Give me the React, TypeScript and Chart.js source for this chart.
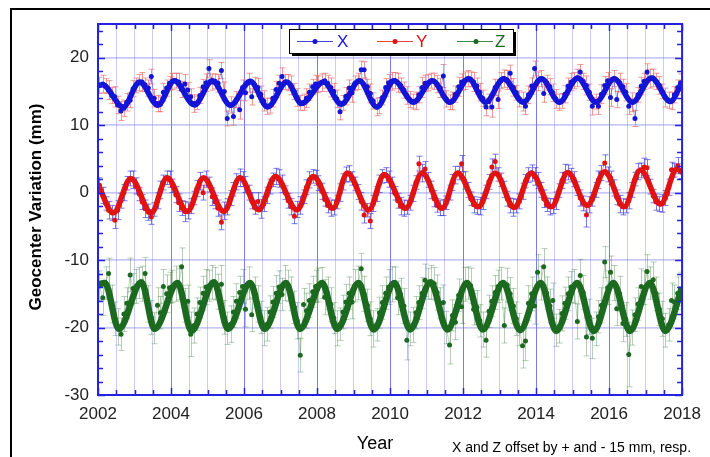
import React, { useEffect, useRef } from 'react';
import { Chart, registerables } from 'chart.js';
Chart.register(...registerables);

// ---------------- data ----------------
const years = [2002, 2003, 2004, 2005, 2006, 2007, 2008, 2009, 2010, 2011, 2012, 2013, 2014, 2015, 2016, 2017];
const monthFrac = [0.04, 0.13, 0.21, 0.29, 0.38, 0.46, 0.54, 0.63, 0.71, 0.79, 0.88, 0.96];

const xTickValues = [2002, 2002.5, 2003, 2003.5, 2004, 2004.5, 2005, 2005.5, 2006, 2006.5, 2007, 2007.5, 2008, 2008.5, 2009, 2009.5, 2010, 2010.5, 2011, 2011.5, 2012, 2012.5, 2013, 2013.5, 2014, 2014.5, 2015, 2015.5, 2016, 2016.5, 2017, 2017.5, 2018];
const xLabelYears = [2002, 2004, 2006, 2008, 2010, 2012, 2014, 2016, 2018];
const yTickValues = [-30, -20, -10, 0, 10, 20];

const seriesNames = ['X', 'Y', 'Z'];

// X component (offset +15 mm), monthly
const xData = [
  [15.9, 16.1, 15.8, 15.2, 14.4, 14.2, 13.0, 12.1, 12.5, 13.4, 13.7, 15.4],
  [15.9, 16.3, 16.4, 16.0, 15.5, 17.2, 14.0, 13.2, 13.1, 14.9, 15.5, 16.2],
  [16.5, 16.6, 16.4, 15.3, 16.1, 15.2, 14.2, 13.2, 13.3, 14.4, 15.7, 16.3],
  [18.4, 16.4, 16.5, 16.2, 18.1, 15.0, 11.0, 13.0, 11.3, 13.8, 12.3, 15.6],
  [14.8, 16.3, 14.2, 16.0, 15.6, 14.6, 13.6, 12.8, 12.9, 14.0, 15.3, 16.2],
  [17.2, 16.4, 16.3, 15.9, 15.0, 14.1, 13.3, 13.4, 14.0, 14.9, 15.7, 16.1],
  [16.1, 16.3, 16.6, 16.2, 15.6, 15.0, 13.9, 12.0, 13.3, 14.3, 15.5, 14.8],
  [16.2, 16.5, 18.2, 18.2, 15.7, 14.7, 13.6, 12.7, 12.9, 14.1, 15.6, 16.3],
  [16.5, 16.6, 16.3, 15.9, 15.2, 14.4, 13.8, 13.5, 13.6, 14.5, 15.6, 16.2],
  [16.3, 16.6, 16.5, 16.1, 15.5, 17.3, 13.9, 13.4, 13.6, 14.6, 15.7, 16.4],
  [16.6, 16.9, 16.8, 16.4, 15.8, 14.9, 14.0, 12.7, 13.5, 12.7, 15.6, 13.8],
  [16.6, 16.9, 16.7, 17.7, 15.6, 14.8, 13.9, 13.5, 12.8, 14.5, 15.8, 18.4],
  [16.5, 16.9, 14.7, 16.3, 15.7, 14.8, 13.9, 13.4, 13.6, 14.6, 15.8, 16.4],
  [16.6, 17.0, 17.9, 16.5, 15.9, 14.9, 12.8, 13.5, 12.8, 14.6, 15.9, 16.6],
  [14.1, 16.9, 13.8, 16.3, 15.7, 14.9, 12.8, 13.4, 11.0, 14.5, 15.8, 16.5],
  [17.9, 16.9, 17.0, 16.5, 15.9, 15.0, 14.1, 13.7, 13.6, 14.5, 15.6, 16.3],
];
const xErr = [
  [1.2, 1.3, 1.1, 1.4, 1.2, 1.5, 1.3, 1.4, 1.2, 1.3, 1.1, 1.2],
  [1.1, 1.2, 1.4, 1.0, 1.2, 1.1, 1.3, 1.2, 1.1, 1.3, 1.2, 1.0],
  [1.2, 1.1, 1.3, 1.2, 1.4, 1.1, 1.2, 1.3, 1.0, 1.2, 1.1, 1.3],
  [1.3, 1.2, 1.1, 1.3, 1.2, 1.4, 1.1, 1.2, 1.3, 1.2, 1.4, 1.1],
  [1.2, 1.4, 1.2, 1.1, 1.3, 1.2, 1.5, 1.2, 1.1, 1.3, 1.2, 1.2],
  [1.3, 1.1, 1.2, 1.4, 1.2, 1.3, 1.1, 1.2, 1.4, 1.2, 1.1, 1.3],
  [1.2, 1.3, 1.1, 1.2, 1.4, 1.2, 1.3, 1.2, 1.1, 1.3, 1.2, 1.4],
  [1.1, 1.2, 1.3, 1.2, 1.1, 1.4, 1.2, 1.3, 1.2, 1.1, 1.3, 1.2],
  [1.3, 1.2, 1.4, 1.1, 1.2, 1.3, 1.2, 1.1, 1.3, 1.2, 1.5, 1.2],
  [1.2, 1.1, 1.2, 1.3, 1.4, 1.7, 1.2, 1.1, 1.3, 1.2, 1.4, 1.2],
  [1.3, 1.2, 1.1, 1.4, 1.2, 1.3, 1.2, 1.3, 1.1, 1.5, 1.2, 1.3],
  [1.2, 1.3, 1.4, 1.2, 1.3, 1.1, 1.2, 1.4, 1.2, 1.3, 1.2, 1.1],
  [1.4, 1.2, 1.3, 1.1, 1.2, 1.3, 1.4, 1.2, 1.1, 1.3, 1.2, 1.3],
  [1.2, 1.3, 1.1, 1.2, 1.4, 1.2, 1.3, 1.1, 1.2, 1.4, 1.3, 1.2],
  [1.3, 1.2, 1.2, 1.4, 1.1, 1.3, 1.2, 1.4, 1.2, 1.1, 1.3, 1.2],
  [1.2, 1.4, 1.3, 1.2, 1.3, 1.1, 1.4, 1.2, 1.3, 1.2, 1.1, 1.3],
];

// Y component, monthly
const yData = [
  [1.1, -0.4, -1.6, -2.6, -3.0, -4.1, -2.6, -1.2, 0.0, 1.4, 2.1, 1.9],
  [1.0, -0.2, -1.4, -2.4, -2.9, -3.6, -2.5, -1.2, 0.4, 1.5, 2.2, 2.0],
  [1.0, -0.3, -1.5, -2.3, -2.8, -2.7, -2.0, -0.8, 0.6, 1.7, 0.0, 2.0],
  [1.2, -0.6, -1.4, -2.3, -4.4, -2.7, -2.1, -0.8, 0.5, 1.6, 2.2, 2.0],
  [1.2, 0.0, -1.2, -2.2, -1.3, -2.4, -1.7, -0.4, 0.9, 1.9, 2.4, 2.1],
  [1.3, 0.0, -1.2, -2.1, -3.5, -2.5, -1.9, -0.6, 0.8, 1.9, 2.4, 2.2],
  [1.4, 0.2, -1.0, -1.9, -2.3, -2.2, -1.4, 0.0, 1.6, 2.7, 2.8, 2.1],
  [1.3, 0.1, -1.3, -3.3, -2.6, -4.2, -1.6, -0.2, 1.3, 2.4, 2.6, 2.0],
  [1.1, -0.1, -1.2, -2.0, -2.3, -2.2, -1.5, -0.1, 1.5, 4.3, 2.9, 3.5],
  [1.9, 0.4, -0.9, -1.9, -2.3, -2.2, -1.5, 0.0, 1.5, 2.6, 2.9, 4.3],
  [1.8, 0.4, -0.9, -1.8, -2.1, -2.0, -1.3, 0.1, 1.6, 3.8, 4.6, 2.7],
  [1.9, 0.5, -0.9, -1.9, -2.2, -2.0, -1.3, 0.2, 1.7, 2.6, 2.9, 2.4],
  [1.8, 0.4, -0.9, -1.8, -2.1, -2.0, -1.2, 0.3, 1.8, 2.8, 3.0, 2.6],
  [2.0, 0.6, -0.8, -1.6, -3.3, -1.8, -1.0, 0.4, 1.9, 2.9, 4.4, 2.7],
  [2.2, 0.7, -0.7, -1.7, -2.1, -2.0, -1.2, 0.4, 2.0, 3.1, 3.3, 3.8],
  [3.7, 0.9, -0.5, -1.4, -1.7, -1.6, -0.8, 0.8, 3.4, 3.3, 4.0, 3.2],
];
const yErr = [
  [1.1, 1.2, 1.0, 1.3, 1.1, 1.2, 1.4, 1.1, 1.2, 1.0, 1.1, 1.3],
  [1.2, 1.0, 1.1, 1.3, 1.2, 1.1, 1.0, 1.2, 1.3, 1.1, 1.0, 1.2],
  [1.0, 1.2, 1.3, 1.1, 1.5, 1.2, 1.1, 1.0, 1.2, 1.3, 1.1, 1.2],
  [1.1, 1.3, 1.0, 1.2, 1.1, 1.3, 1.2, 1.1, 1.0, 1.2, 1.3, 1.1],
  [1.2, 1.1, 1.2, 1.0, 1.3, 1.4, 1.1, 1.2, 1.1, 1.0, 1.2, 1.3],
  [1.3, 1.0, 1.1, 1.2, 1.1, 1.2, 1.3, 1.0, 1.1, 1.2, 1.0, 1.1],
  [1.1, 1.2, 1.0, 1.1, 1.2, 1.1, 1.0, 1.3, 1.2, 1.1, 1.2, 1.0],
  [1.0, 1.1, 1.3, 1.2, 1.0, 1.1, 1.2, 1.1, 1.3, 1.0, 1.1, 1.2],
  [1.2, 1.0, 1.1, 1.3, 1.2, 1.0, 1.1, 1.2, 1.0, 1.1, 1.3, 1.1],
  [1.1, 1.3, 1.2, 1.0, 1.1, 1.2, 1.0, 1.1, 1.2, 1.3, 1.0, 1.2],
  [1.3, 1.1, 1.0, 1.2, 1.1, 1.3, 1.2, 1.0, 1.1, 1.2, 1.1, 1.0],
  [1.0, 1.2, 1.1, 1.1, 1.3, 1.0, 1.1, 1.2, 1.0, 1.1, 1.2, 1.3],
  [1.2, 1.1, 1.3, 1.0, 1.2, 1.1, 1.3, 1.0, 1.2, 1.4, 1.1, 1.0],
  [1.1, 1.0, 1.2, 1.1, 1.8, 1.2, 1.0, 1.1, 1.3, 1.1, 1.2, 1.1],
  [1.0, 1.2, 1.1, 1.3, 1.2, 1.0, 1.2, 1.1, 1.0, 1.2, 1.1, 1.3],
  [1.2, 1.1, 1.0, 1.2, 1.1, 1.3, 1.1, 1.2, 1.1, 1.0, 1.2, 1.1],
];

// Z component (offset -15 mm), monthly
const zData = [
  [-13.8, -15.6, -13.4, -12.0, -16.5, -18.7, -19.9, -21.0, -18.0, -16.4, -12.2, -14.2],
  [-13.9, -13.4, -13.5, -12.0, -16.5, -18.5, -20.1, -16.7, -17.8, -13.9, -15.0, -14.1],
  [-13.9, -13.5, -13.6, -11.0, -16.7, -16.1, -21.0, -19.7, -18.0, -16.3, -14.9, -14.0],
  [-13.8, -13.3, -13.5, -14.7, -13.6, -18.5, -20.1, -19.5, -17.7, -16.1, -14.8, -13.9],
  [-17.3, -13.4, -18.1, -14.8, -16.5, -18.5, -20.1, -19.5, -17.7, -16.2, -14.9, -14.0],
  [-15.1, -13.4, -13.8, -15.0, -17.0, -19.0, -24.1, -16.6, -17.5, -16.0, -14.7, -13.9],
  [-13.7, -13.4, -15.5, -14.9, -16.6, -18.6, -20.1, -19.5, -17.7, -16.2, -14.9, -16.2],
  [-13.8, -13.4, -11.3, -15.0, -16.7, -18.7, -20.2, -19.6, -17.8, -16.3, -14.9, -14.0],
  [-13.6, -13.4, -15.6, -15.1, -16.8, -21.9, -20.2, -19.6, -17.8, -16.3, -14.9, -13.0],
  [-13.5, -13.3, -13.5, -14.8, -16.4, -16.3, -20.0, -22.6, -18.2, -19.2, -15.2, -16.9],
  [-13.6, -13.4, -13.8, -17.3, -17.0, -19.0, -20.3, -21.9, -17.6, -16.1, -14.8, -13.9],
  [-13.5, -19.7, -13.7, -15.0, -16.8, -18.7, -20.3, -22.7, -22.0, -16.4, -15.0, -16.8],
  [-11.8, -13.4, -11.0, -14.9, -16.8, -16.0, -20.4, -19.8, -17.9, -16.4, -15.0, -14.0],
  [-13.9, -19.1, -12.3, -14.8, -21.4, -18.4, -21.6, -20.2, -18.4, -16.7, -10.3, -14.1],
  [-11.8, -13.4, -17.2, -15.0, -19.4, -18.8, -24.0, -20.0, -18.1, -16.5, -13.9, -14.1],
  [-11.7, -13.4, -12.9, -15.0, -17.3, -18.7, -20.4, -19.6, -16.0, -16.2, -14.9, -14.3],
];
const zErr = [
  [2.2, 2.6, 2.4, 2.3, 2.8, 2.5, 2.7, 2.4, 2.6, 2.3, 2.5, 2.2],
  [2.5, 2.3, 2.6, 2.4, 2.7, 2.5, 2.3, 2.6, 2.4, 2.5, 2.8, 2.3],
  [2.4, 2.6, 2.3, 2.8, 2.5, 2.4, 3.3, 2.6, 2.4, 2.3, 2.5, 2.6],
  [2.3, 2.5, 2.4, 2.6, 2.8, 2.5, 2.4, 2.7, 2.3, 2.6, 2.4, 2.5],
  [2.6, 2.4, 2.5, 2.3, 2.7, 2.4, 2.6, 2.5, 2.4, 2.3, 2.6, 2.4],
  [2.4, 2.6, 2.3, 2.5, 2.4, 2.7, 2.5, 2.4, 2.6, 2.5, 2.3, 2.4],
  [2.5, 2.3, 2.6, 2.4, 2.5, 2.3, 2.6, 2.4, 2.5, 2.6, 2.4, 2.5],
  [2.4, 2.5, 2.3, 2.6, 2.4, 2.5, 2.7, 2.4, 2.3, 2.5, 2.4, 2.6],
  [2.6, 2.4, 2.5, 2.4, 2.6, 2.9, 2.5, 2.6, 2.4, 2.5, 2.3, 2.4],
  [2.3, 2.5, 2.4, 2.6, 2.3, 2.6, 2.4, 2.8, 2.3, 2.6, 2.4, 2.5],
  [2.5, 2.4, 2.6, 2.3, 2.5, 2.4, 2.6, 2.5, 2.4, 2.3, 2.5, 2.4],
  [2.4, 2.6, 2.5, 2.4, 2.6, 2.5, 2.4, 3.3, 2.9, 2.6, 2.5, 2.7],
  [2.6, 2.5, 2.7, 2.4, 2.5, 2.6, 2.4, 2.5, 2.6, 2.4, 2.5, 2.3],
  [2.5, 2.6, 2.4, 2.5, 2.8, 2.6, 3.0, 2.5, 2.4, 2.6, 2.3, 2.5],
  [2.4, 2.6, 2.5, 2.6, 2.7, 2.5, 4.8, 2.6, 2.5, 2.4, 2.6, 2.5],
  [2.5, 2.4, 2.6, 2.5, 2.4, 2.6, 2.5, 2.4, 2.6, 2.5, 2.4, 2.5],
];

// Smooth fit curves: turning points (epoch, value)
const xFitT = [2002.0, 2002.12, 2002.69, 2003.14, 2003.64, 2004.09, 2004.64, 2005.13, 2005.63, 2006.17, 2006.65, 2007.17, 2007.58, 2008.18, 2008.67, 2009.16, 2009.64, 2010.11, 2010.64, 2011.16, 2011.64, 2012.15, 2012.62, 2013.11, 2013.65, 2014.15, 2014.64, 2015.14, 2015.64, 2016.14, 2016.64, 2017.16, 2017.68, 2018.0];
const xFitV = [15.9, 16.0, 12.7, 16.4, 12.95, 16.6, 13.0, 16.6, 12.95, 16.5, 12.7, 16.4, 13.2, 16.4, 13.1, 16.6, 12.7, 16.6, 13.4, 16.6, 13.4, 16.9, 13.4, 16.9, 13.4, 16.9, 13.4, 17.0, 13.4, 16.9, 13.4, 17.0, 13.5, 16.4];
const yFitT = [2002.0, 2002.42, 2002.9, 2003.46, 2003.89, 2004.45, 2004.89, 2005.45, 2005.89, 2006.4, 2006.86, 2007.45, 2007.9, 2008.44, 2008.83, 2009.42, 2009.84, 2010.43, 2010.88, 2011.43, 2011.85, 2012.42, 2012.88, 2013.4, 2013.87, 2014.42, 2014.87, 2015.4, 2015.88, 2016.41, 2016.86, 2017.41, 2017.86, 2018.0];
const yFitV = [1.2, -3.0, 2.1, -3.0, 2.2, -2.8, 2.2, -2.8, 2.2, -2.55, 2.4, -2.55, 2.4, -2.3, 2.9, -2.55, 2.7, -2.3, 2.9, -2.3, 2.9, -2.1, 2.9, -2.2, 2.9, -2.1, 3.0, -1.9, 3.1, -2.1, 3.35, -1.7, 3.5, 3.0];
const zFitT = [2002.0, 2002.19, 2002.57, 2003.19, 2003.55, 2004.18, 2004.56, 2005.18, 2005.56, 2006.17, 2006.56, 2007.15, 2007.53, 2008.14, 2008.55, 2009.14, 2009.55, 2010.12, 2010.55, 2011.11, 2011.57, 2012.11, 2012.54, 2013.1, 2013.56, 2014.13, 2014.55, 2015.13, 2015.58, 2016.12, 2016.57, 2017.12, 2017.54, 2018.0];
const zFitV = [-13.6, -13.4, -20.2, -13.3, -20.2, -13.4, -20.5, -13.3, -20.2, -13.4, -20.2, -13.4, -20.2, -13.4, -20.2, -13.4, -20.3, -13.4, -20.3, -13.3, -20.3, -13.4, -20.3, -13.4, -20.4, -13.4, -20.5, -13.4, -20.5, -13.4, -20.5, -13.4, -20.5, -14.1];

// ---------------- styling ----------------
const FONT = "'Liberation Sans', Arial, Helvetica, sans-serif";
const colors = ['#1414d6', '#e01212', '#1b6a20'];
const thinColors = ['rgba(20,20,214,0.5)', 'rgba(224,18,18,0.5)', 'rgba(27,106,32,0.35)'];
const errColors = ['rgba(232,110,110,0.7)', 'rgba(50,50,220,0.65)', 'rgba(27,106,32,0.32)'];
const axisBlue = '#2222e0';

type Pt = { x: number; y: number };
const toPoints = (grid: number[][]): Pt[] => {
  const out: Pt[] = [];
  years.forEach((yr, i) => monthFrac.forEach((f, j) => out.push({ x: yr + f, y: grid[i][j] })));
  return out;
};
const toFit = (t: number[], v: number[]): Pt[] => t.map((tt, i) => ({ x: tt, y: v[i] }));

const seriesData = [toPoints(xData), toPoints(yData), toPoints(zData)];
const seriesErr = [xErr, yErr, zErr].map((g) => g.flat());
const fits = [toFit(xFitT, xFitV), toFit(yFitT, yFitV), toFit(zFitT, zFitV)];

const framePlugin = {
  id: 'frame',
  beforeDatasetsDraw(chart: any) {
    const { ctx, chartArea: a, scales } = chart;
    const xs = scales.x, ys = scales.y;
    ctx.save();
    ctx.beginPath();
    ctx.rect(a.left, a.top, a.right - a.left, a.bottom - a.top);
    ctx.clip();
    seriesData.forEach((pts, s) => {
      ctx.strokeStyle = errColors[s];
      ctx.lineWidth = 1;
      pts.forEach((p, i) => {
        const e = seriesErr[s][i];
        const px = Math.round(xs.getPixelForValue(p.x)) + 0.5;
        const y1 = ys.getPixelForValue(p.y + e);
        const y2 = ys.getPixelForValue(p.y - e);
        ctx.beginPath();
        ctx.moveTo(px, y1); ctx.lineTo(px, y2);
        ctx.moveTo(px - 3, y1); ctx.lineTo(px + 3, y1);
        ctx.moveTo(px - 3, y2); ctx.lineTo(px + 3, y2);
        ctx.stroke();
      });
    });
    ctx.restore();
  },
  afterDraw(chart: any) {
    const { ctx, chartArea: a, scales } = chart;
    const xs = scales.x, ys = scales.y;
    ctx.save();
    // outer black frame
    ctx.fillStyle = '#000';
    ctx.fillRect(10, 8, 700, 2);
    ctx.fillRect(10, 8, 2, 449);
    // plot border
    ctx.strokeStyle = axisBlue;
    ctx.lineWidth = 2;
    ctx.strokeRect(a.left, a.top, a.right - a.left, a.bottom - a.top);
    // tick marks
    ctx.lineWidth = 1.5;
    ctx.beginPath();
    for (let v = -30; v <= 25; v += 2) {
      const py = Math.round(ys.getPixelForValue(v)) + 0.5;
      const len = v % 10 === 0 ? 7 : 5;
      ctx.moveTo(a.left, py); ctx.lineTo(a.left + len, py);
      ctx.moveTo(a.right, py); ctx.lineTo(a.right - len, py);
    }
    xTickValues.forEach((v) => {
      const px = Math.round(xs.getPixelForValue(v)) + 0.5;
      const len = v % 2 === 0 ? 7 : 5;
      ctx.moveTo(px, a.top); ctx.lineTo(px, a.top + len);
      ctx.moveTo(px, a.bottom); ctx.lineTo(px, a.bottom - len);
    });
    ctx.stroke();

    // legend box
    const lx = 289, ly = 29, lw = 224, lh = 24;
    ctx.fillStyle = '#000';
    ctx.fillRect(lx + 3, ly + 3, lw, lh);
    ctx.fillStyle = '#fff';
    ctx.fillRect(lx, ly, lw, lh);
    ctx.strokeStyle = '#000';
    ctx.lineWidth = 1;
    ctx.strokeRect(lx + 0.5, ly + 0.5, lw, lh);
    const cy = ly + lh / 2;
    const entries = [
      { x0: 297, x1: 333, dot: 315, tx: 337 },
      { x0: 377, x1: 413, dot: 395, tx: 416 },
      { x0: 457, x1: 493, dot: 476, tx: 495 },
    ];
    entries.forEach((en, i) => {
      ctx.strokeStyle = colors[i];
      ctx.lineWidth = 0.8;
      ctx.beginPath();
      ctx.moveTo(en.x0, cy + 0.5); ctx.lineTo(en.x1, cy + 0.5);
      ctx.stroke();
      ctx.fillStyle = colors[i];
      ctx.beginPath();
      ctx.arc(en.dot, cy + 0.5, 2.5, 0, Math.PI * 2);
      ctx.fill();
      ctx.font = `17px ${FONT}`;
      ctx.textBaseline = 'middle';
      ctx.textAlign = 'left';
      ctx.fillText(seriesNames[i], en.tx, cy + 1);
    });

    // axis titles
    ctx.fillStyle = '#000';
    ctx.font = `bold 17px ${FONT}`;
    ctx.textAlign = 'center';
    ctx.textBaseline = 'middle';
    ctx.save();
    ctx.translate(36, 207);
    ctx.rotate(-Math.PI / 2);
    ctx.fillText('Geocenter Variation (mm)', 0, 0);
    ctx.restore();
    ctx.font = `18px ${FONT}`;
    ctx.textBaseline = 'alphabetic';
    ctx.fillText('Year', 375, 449);
    ctx.font = `14px ${FONT}`;
    ctx.textAlign = 'left';
    ctx.fillText('X and Z offset by + and - 15 mm, resp.', 452, 452);
    ctx.restore();
  },
};

export default function App() {
  const ref = useRef<HTMLCanvasElement>(null);
  useEffect(() => {
    const datasets: any[] = [];
    [0, 1, 2].forEach((s) => {
      datasets.push({
        label: seriesNames[s] + ' fit',
        data: fits[s],
        borderColor: colors[s],
        borderWidth: s === 2 ? 6.5 : 5.5,
        pointRadius: 0,
        cubicInterpolationMode: 'monotone',
        fill: false,
        order: 1,
      });
      datasets.push({
        label: seriesNames[s],
        data: seriesData[s],
        borderColor: thinColors[s],
        borderWidth: 0.8,
        pointRadius: 2.5,
        pointBackgroundColor: colors[s],
        pointBorderWidth: 0,
        fill: false,
        order: 2,
      });
    });
    const chart = new Chart(ref.current as HTMLCanvasElement, {
      type: 'line',
      data: { datasets },
      plugins: [framePlugin],
      options: {
        responsive: false,
        animation: false,
        devicePixelRatio: 1,
        layout: { padding: { left: 0, top: 24, right: 23, bottom: 0 } },
        plugins: { legend: { display: false }, tooltip: { enabled: false } },
        scales: {
          x: {
            type: 'linear',
            min: 2002,
            max: 2018,
            afterBuildTicks: (axis: any) => {
              axis.ticks = xTickValues.map((v) => ({ value: v }));
            },
            afterFit: (s: any) => {
              s.height = 62;
            },
            ticks: {
              autoSkip: false,
              maxRotation: 0,
              padding: 9,
              color: '#222',
              font: { family: FONT, size: 17 },
              callback: (v: any) => (xLabelYears.includes(Number(v)) ? String(v) : ''),
            },
            grid: {
              drawTicks: false,
              color: (c: any) => (c.tick && c.tick.value % 2 === 0 ? 'rgba(80,80,232,0.75)' : 'rgba(120,120,235,0.38)'),
              lineWidth: 1,
            },
            border: { display: false },
          },
          y: {
            type: 'linear',
            min: -30,
            max: 25,
            afterBuildTicks: (axis: any) => {
              axis.ticks = yTickValues.map((v) => ({ value: v }));
            },
            afterFit: (s: any) => {
              s.width = 98;
            },
            ticks: {
              padding: 9,
              color: '#222',
              font: { family: FONT, size: 17 },
              callback: (v: any) => String(v),
            },
            grid: {
              drawTicks: false,
              color: 'rgba(120,120,235,0.4)',
              lineWidth: 1.8,
            },
            border: { display: false },
          },
        },
      } as any,
    });
    return () => chart.destroy();
  }, []);
  return (
    <div style={{ position: 'fixed', left: 0, top: 0, width: 710, height: 457, background: '#fff' }}>
      <canvas ref={ref} width={710} height={457} style={{ display: 'block', width: 710, height: 457 }} />
    </div>
  );
}
